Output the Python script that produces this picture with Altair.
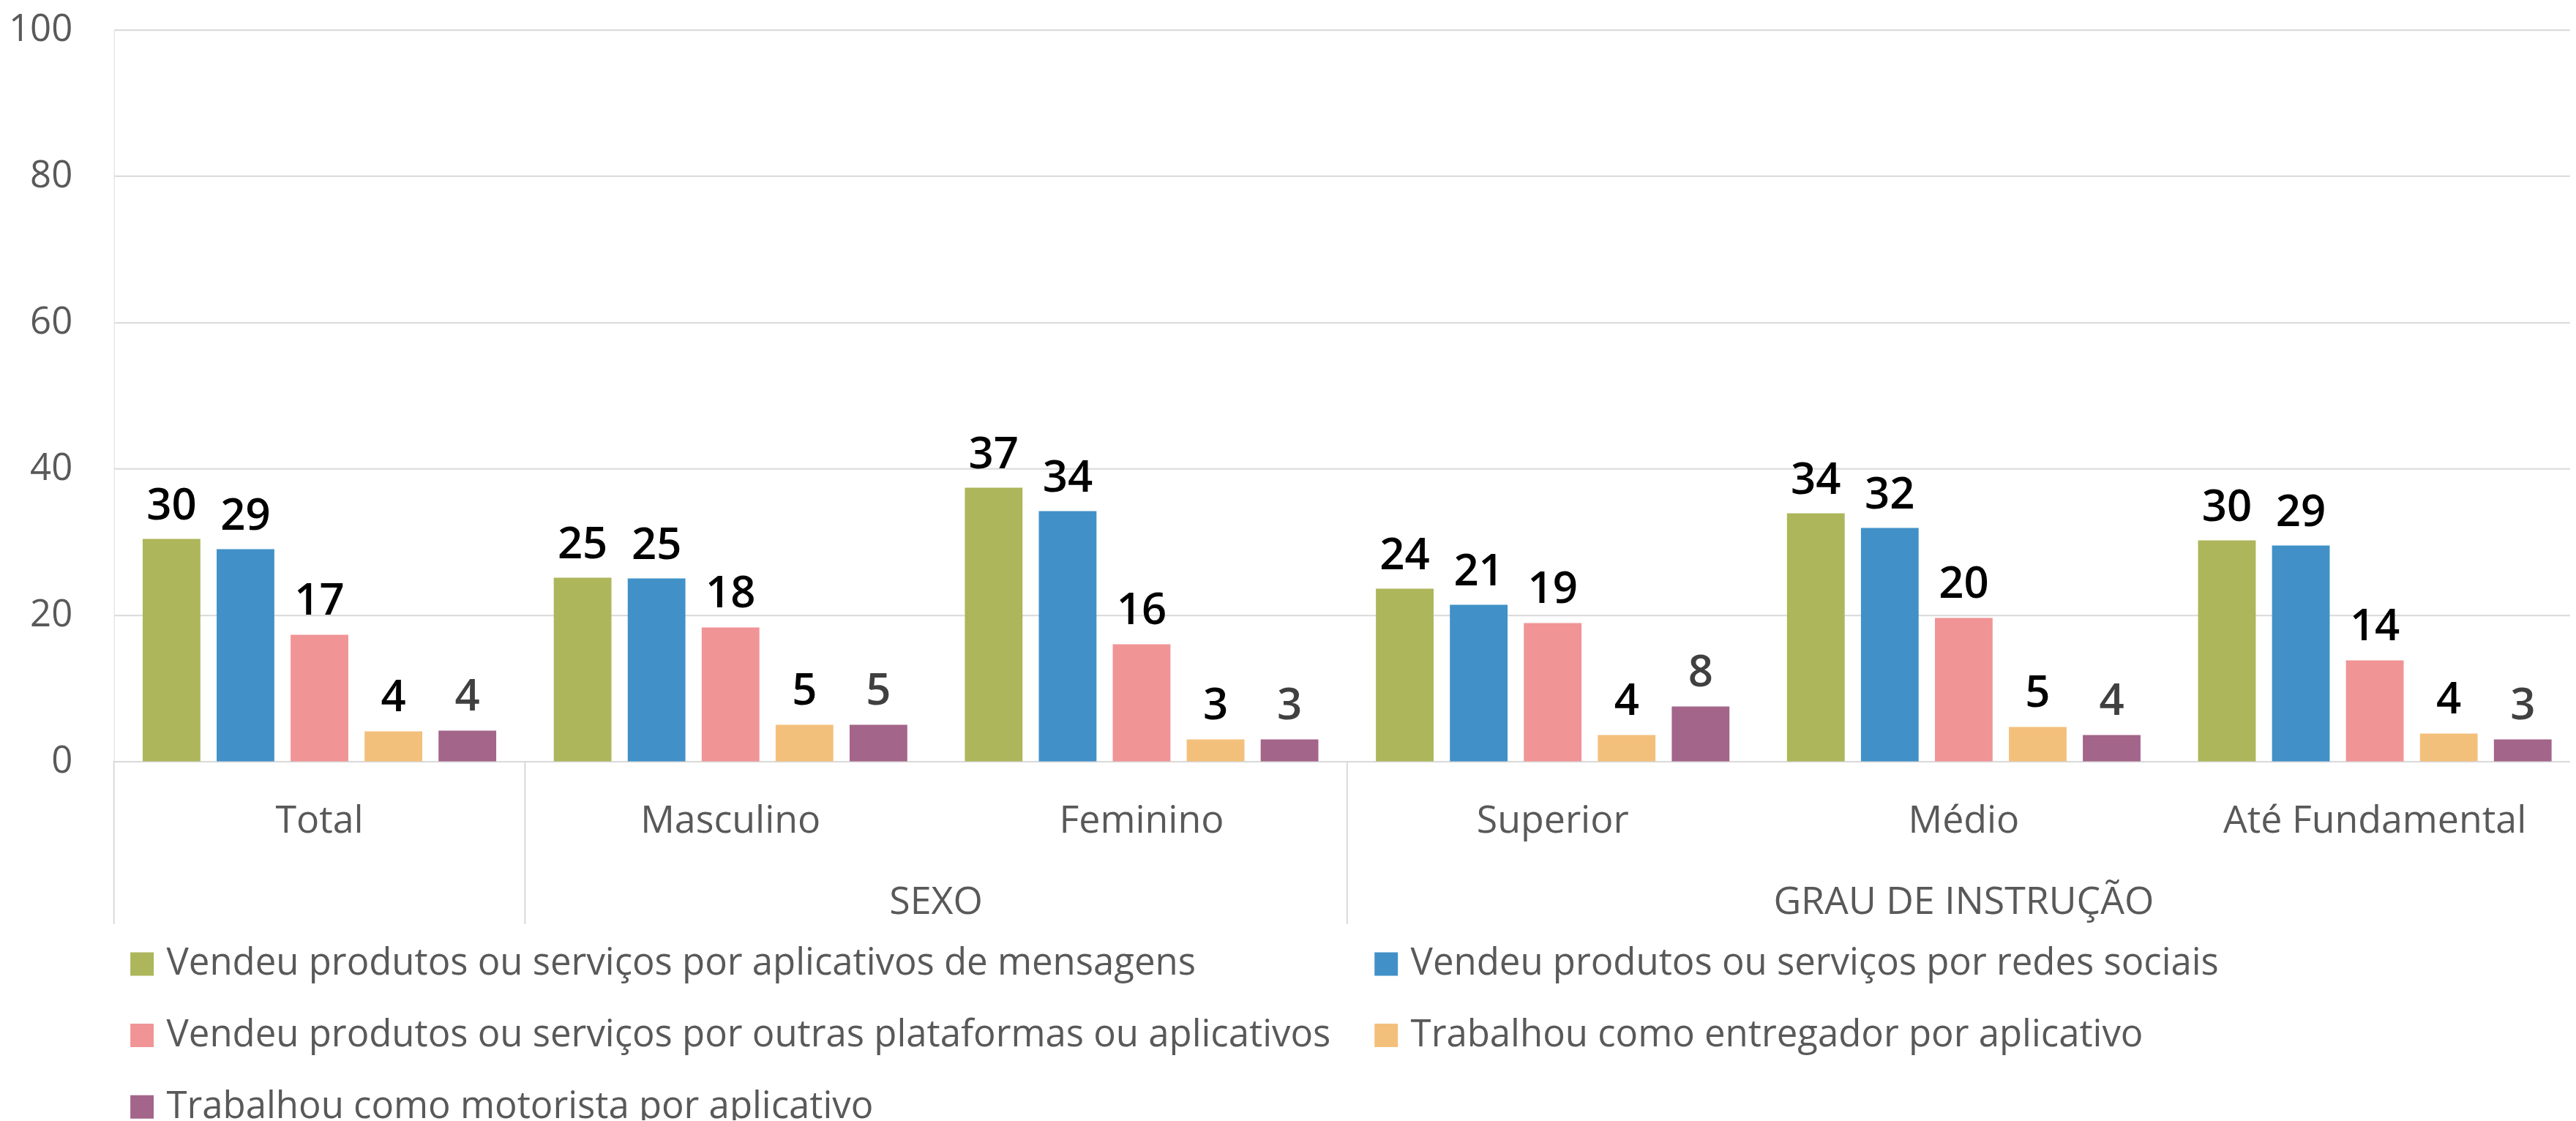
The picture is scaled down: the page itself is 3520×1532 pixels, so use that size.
import altair as alt
import pandas as pd

# ---- data ----
categories = ["Total", "Masculino", "Feminino", "Superior", "Médio", "Até Fundamental"]
series = [
    "Vendeu produtos ou serviços por aplicativos de mensagens",
    "Vendeu produtos ou serviços por redes sociais",
    "Vendeu produtos ou serviços por outras plataformas ou aplicativos",
    "Trabalhou como entregador por aplicativo",
    "Trabalhou como motorista por aplicativo",
]
colors = ["#ADB65A", "#4191C8", "#F09496", "#F3C07C", "#A3658A"]

mensagens = [30.4, 25.1, 37.4, 23.6, 33.9, 30.2]
redes = [29.0, 25.0, 34.2, 21.4, 31.9, 29.5]
outras = [17.3, 18.3, 16.0, 18.9, 19.6, 13.8]
entregador = [4.1, 5.0, 3.0, 3.6, 4.7, 3.8]
motorista = [4.2, 5.0, 3.0, 7.5, 3.6, 3.0]

mensagens_lbl = [30, 25, 37, 24, 34, 30]
redes_lbl = [29, 25, 34, 21, 32, 29]
outras_lbl = [17, 18, 16, 19, 20, 14]
entregador_lbl = [4, 5, 3, 4, 5, 4]
motorista_lbl = [4, 5, 3, 8, 4, 3]

group_sexo = "SEXO"
group_grau = "GRAU DE INSTRUÇÃO"
separator_cats = ["Total", "Masculino", "Superior"]
y_ticks = [0, 20, 40, 60, 80, 100]

# ---- build table ----
vals = [mensagens, redes, outras, entregador, motorista]
lbls = [mensagens_lbl, redes_lbl, outras_lbl, entregador_lbl, motorista_lbl]
rows = []
for s, v, l in zip(series, vals, lbls):
    for c, vv, ll in zip(categories, v, l):
        rows.append({"cat": c, "serie": s, "valor": vv, "rotulo": str(ll)})
df = pd.DataFrame(rows)

# legend is filled column by column: order entries so rows read 1|2, 3|4, 5
legend_idx = [0, 2, 4, 1, 3]
legend_domain = [series[i] for i in legend_idx]
legend_range = [colors[i] for i in legend_idx]

FONT = "Open Sans"
GRAY = "#595959"
LINE = "#D9D9D9"
W = 3364
H = 1002

x_enc = alt.X(
    "cat:N",
    sort=categories,
    scale=alt.Scale(domain=categories, range=[0, 3378], paddingInner=0, paddingOuter=0),
    axis=alt.Axis(
        title=None, labelAngle=0, labelFontSize=52, labelColor=GRAY, labelFont=FONT,
        labelBaseline="alphabetic", labelPadding=97, ticks=False, tickSize=0,
        domainColor=LINE, domainWidth=2, grid=False, labelLimit=0,
    ),
)
xoff_enc = alt.XOffset(
    "serie:N", sort=series,
    scale=alt.Scale(domain=series, paddingInner=0.22, paddingOuter=0.389),
)
y_enc = alt.Y(
    "valor:Q",
    scale=alt.Scale(domain=[0, 100], nice=False),
    axis=alt.Axis(
        title=None, values=y_ticks, grid=True, gridColor=LINE, gridWidth=2,
        domain=False, ticks=False, labelFontSize=51, labelColor=GRAY,
        labelFont=FONT, labelPadding=57,
    ),
)

base = alt.Chart(df)

bars = base.mark_bar().encode(
    x=x_enc,
    xOffset=xoff_enc,
    y=y_enc,
    color=alt.Color(
        "serie:N",
        scale=alt.Scale(domain=legend_domain, range=legend_range),
        legend=alt.Legend(
            title=None, orient="none", legendX=13, legendY=1254, columns=2,
            symbolType="square", symbolSize=1024, symbolStrokeWidth=0,
            labelFontSize=51, labelColor=GRAY, labelFont=FONT, labelOffset=8,
            rowPadding=46, columnPadding=50, labelLimit=3000, padding=0,
        ),
    ),
)

labels = base.mark_text(
    baseline="alphabetic", dy=-27, fontSize=60, fontWeight=600, font=FONT
).encode(
    x=alt.X("cat:N", sort=categories),
    xOffset=alt.XOffset("serie:N", sort=series),
    y=alt.Y("valor:Q"),
    text="rotulo:N",
    color=alt.condition(
        alt.datum.serie == series[4], alt.value("#404040"), alt.value("#000000")
    ),
)

rules = alt.Chart(pd.DataFrame({"cat": separator_cats})).mark_rule(
    color=LINE, strokeWidth=2
).encode(
    x=alt.X("cat:N", sort=categories, bandPosition=0),
    y=alt.value(H),
    y2=alt.value(H + 223),
)

sexo = alt.Chart(pd.DataFrame({"cat": ["Feminino"], "txt": [group_sexo]})).mark_text(
    baseline="alphabetic", fontSize=52, color=GRAY, font=FONT
).encode(
    x=alt.X("cat:N", sort=categories, bandPosition=0),
    y=alt.value(1211),
    text="txt:N",
)

grau = alt.Chart(pd.DataFrame({"cat": ["Médio"], "txt": [group_grau]})).mark_text(
    baseline="alphabetic", fontSize=52, color=GRAY, font=FONT
).encode(
    x=alt.X("cat:N", sort=categories, bandPosition=0.5),
    y=alt.value(1211),
    text="txt:N",
)

chart = alt.layer(bars, labels, rules, sexo, grau).properties(
    width=W,
    height=H,
    autosize=alt.AutoSizeParams(type="none"),
    padding={"left": 148, "top": 31, "right": 0, "bottom": 490},
).configure_view(stroke=None).configure(font=FONT)

chart.save("out.html", embed_options={"renderer": "svg", "actions": False})
